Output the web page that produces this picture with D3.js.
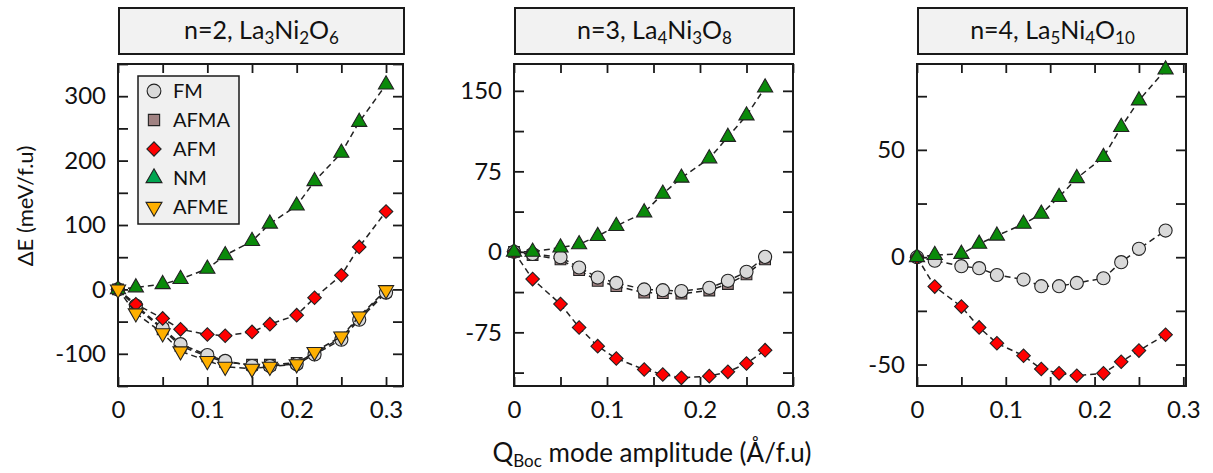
<!DOCTYPE html>
<html>
<head>
<meta charset="utf-8">
<script src="https://cdn.jsdelivr.net/npm/d3@7/dist/d3.min.js"></script>
<style>
  body { margin: 0; background: #fff; }
  text { font-family: Lato, "Open Sans", sans-serif; fill: #111; }
</style>
</head>
<body>
<svg id="chart" width="1213" height="473"></svg>
<script>
// ---- data ----
// n=2, La3Ni2O6
var xs2   = [0, 0.02, 0.05, 0.07, 0.10, 0.12, 0.15, 0.17, 0.20, 0.22, 0.25, 0.27, 0.30];
var fm2   = [0, -25, -60, -85, -102, -111, -119, -119, -116, -101, -78, -47, -5];
var afma2 = [0, -27, -62, -88, -104, -113, -117, -117, -114, -99, -75, -44, -3];
var afm2  = [0, -23, -45, -62, -70, -72, -66, -54, -40, -13, 22, 66, 121];
var nm2   = [0, 3, 8, 16, 32, 53, 75, 102, 130, 168, 212, 260, 318];
var afme2 = [0, -37, -68, -96, -111, -120, -123, -120, -116, -97, -73, -42, -1];

// n=3, La4Ni3O8
var xs3   = [0, 0.02, 0.05, 0.07, 0.09, 0.11, 0.14, 0.16, 0.18, 0.21, 0.23, 0.25, 0.27];
var fm3   = [0, -2, -5, -14.6, -24, -29, -35, -35.7, -36.6, -33.5, -27, -18.6, -4.7];
var afma3 = [0, -3, -7, -17, -27, -32, -38, -38.5, -39, -36, -30, -21, -7];
var afm3  = [0, -25.4, -48.7, -70.5, -87.9, -99.4, -109.6, -114.3, -117.4, -115.8, -111.8, -104, -91.6];
var nm3   = [0, 0, 4, 7, 14.6, 24, 36.7, 54, 69, 87, 107, 127, 153];

// n=4, La5Ni4O10
var xs4   = [0, 0.02, 0.05, 0.07, 0.09, 0.12, 0.14, 0.16, 0.18, 0.21, 0.23, 0.25, 0.28];
var fm4   = [0, -1.6, -4.2, -5.1, -8.3, -10.4, -13.5, -13.5, -12, -9.8, -2.3, 3.9, 12.4];
var afm4  = [0, -13.7, -23, -32.7, -40.1, -45.9, -52.1, -54.1, -55.2, -54.1, -48.7, -43.5, -36.1];
var nm4   = [0, 1, 1.5, 6.2, 10, 15.5, 20.2, 28, 36.8, 46.6, 60.6, 73, 87.4];

var legendNames = ['FM', 'AFMA', 'AFM', 'NM', 'AFME'];
var yTicks2 = [-100, 0, 100, 200, 300];
var yTicks3 = [-75, 0, 75, 150];
var yTicks4 = [-50, 0, 50];

// ---- styles ----
var styles = {
  FM:   {fill: '#d9d9d9', sym: d3.symbolCircle,   size: 135, rot: 0},
  AFMA: {fill: '#a08282', sym: d3.symbolSquare,   size: 115, rot: 0},
  AFM:  {fill: '#ff0000', sym: d3.symbolSquare,   size: 92,  rot: 45},
  NM:   {fill: '#0a8a0a', sym: d3.symbolTriangle, size: 100, rot: 0},
  AFME: {fill: '#ffb000', sym: d3.symbolTriangle, size: 100, rot: 180}
};

var svg = d3.select('#chart');

var panels = [
  {title: ['n=2, La', '3', 'Ni', '2', 'O', '6'], x0: 118, x1: 403, xmax: 0.319,
   ydom: [-150, 350], yt: yTicks2, ystep: 50,
   series: [['AFMA', xs2, afma2], ['FM', xs2, fm2], ['AFM', xs2, afm2], ['NM', xs2, nm2], ['AFME', xs2, afme2]],
   legend: true},
  {title: ['n=3, La', '4', 'Ni', '3', 'O', '8'], x0: 514, x1: 793, xmax: 0.30,
   ydom: [-125, 175], yt: yTicks3, ystep: 37.5,
   series: [['AFMA', xs3, afma3], ['FM', xs3, fm3], ['AFM', xs3, afm3], ['NM', xs3, nm3]]},
  {title: ['n=4, La', '5', 'Ni', '4', 'O', '10'], x0: 917, x1: 1186, xmax: 0.303,
   ydom: [-60, 90], yt: yTicks4, ystep: 25,
   series: [['FM', xs4, fm4], ['AFM', xs4, afm4], ['NM', xs4, nm4]]}
];

var plotTop = 64, plotBottom = 386;

panels.forEach(function(p) {
  var w = p.x1 - p.x0, h = plotBottom - plotTop;
  var g = svg.append('g').attr('transform', 'translate(' + p.x0 + ',' + plotTop + ')');

  var x = d3.scaleLinear().domain([0, p.xmax]).range([0, w]);
  var y = d3.scaleLinear().domain(p.ydom).range([h, 0]);

  // title box
  g.append('rect').attr('x', 1).attr('y', -56).attr('width', w).attr('height', 46)
    .attr('fill', '#f2f2f2').attr('stroke', '#1a1a1a').attr('stroke-width', 2);
  var t = g.append('text').attr('x', w / 2 + 1).attr('y', -25).attr('text-anchor', 'middle')
    .style('font-size', '25px');
  p.title.forEach(function(s, i) {
    var sp = t.append('tspan').text(s);
    if (i % 2 === 1) sp.style('font-size', '17px').attr('dy', 5);
    else if (i > 0) sp.attr('dy', -5);
  });

  // ticks
  var xv = d3.range(0, p.xmax + 1e-9, 0.05);
  var isMajor = function(d) { return Math.abs(d * 10 - Math.round(d * 10)) < 1e-6; };
  var yv = d3.range(Math.ceil(p.ydom[0] / p.ystep) * p.ystep, p.ydom[1] + 1e-9, p.ystep);

  g.append('g').attr('transform', 'translate(0,' + h + ')')
    .call(d3.axisBottom(x).tickValues(xv).tickSize(-9).tickPadding(15)
      .tickFormat(function(d) { return isMajor(d) ? (Math.round(d * 10) === 0 ? '0' : d3.format('.1f')(d)) : ''; }));
  g.append('g')
    .call(d3.axisTop(x).tickValues(xv).tickSize(-9).tickFormat(''));
  g.append('g')
    .call(d3.axisLeft(y).tickValues(yv).tickSize(-10).tickPadding(12)
      .tickFormat(function(d) { return p.yt.indexOf(d) >= 0 ? d : ''; }));
  g.append('g').attr('transform', 'translate(' + w + ',0)')
    .call(d3.axisRight(y).tickValues(yv).tickSize(-10).tickFormat(''));

  g.selectAll('.domain').remove();
  g.selectAll('.tick line').attr('stroke', '#1a1a1a').attr('stroke-width', 1.8);
  g.selectAll('.tick text').style('font-size', '24px').style('font-family', 'Lato, sans-serif').attr('fill', '#111');

  g.append('rect').attr('width', w).attr('height', h)
    .attr('fill', 'none').attr('stroke', '#1a1a1a').attr('stroke-width', 2);

  // series
  var line = d3.line().x(function(d) { return x(d[0]); }).y(function(d) { return y(d[1]); });
  p.series.forEach(function(s) {
    var st = styles[s[0]];
    var pts = s[1].map(function(v, i) { return [v, s[2][i]]; });
    g.append('path').datum(pts).attr('d', line)
      .attr('fill', 'none').attr('stroke', '#222').attr('stroke-width', 1.5)
      .attr('stroke-dasharray', '6,4');
    g.selectAll(null).data(pts).enter().append('path')
      .attr('d', d3.symbol().type(st.sym).size(st.size))
      .attr('transform', function(d) { return 'translate(' + x(d[0]) + ',' + y(d[1]) + ') rotate(' + st.rot + ')'; })
      .attr('fill', st.fill).attr('stroke', '#222').attr('stroke-width', 1.1);
  });

  // legend
  if (p.legend) {
    var lg = g.append('g').attr('transform', 'translate(20,12)');
    lg.append('rect').attr('width', 101).attr('height', 148)
      .attr('fill', '#f0f0f0').attr('stroke', '#1a1a1a').attr('stroke-width', 1.5);
    legendNames.forEach(function(n, i) {
      var st = styles[n];
      var ly = 15 + i * 29;
      lg.append('path').attr('d', d3.symbol().type(st.sym).size(st.size * 1.1))
        .attr('transform', 'translate(16,' + ly + ') rotate(' + st.rot + ')')
        .attr('fill', n === 'NM' ? '#00a550' : st.fill).attr('stroke', '#222').attr('stroke-width', 1.1);
      lg.append('text').attr('x', 35).attr('y', ly).attr('dy', '0.36em')
        .style('font-size', '20px').text(n);
    });
  }
});

// axis titles
svg.append('text').attr('transform', 'translate(33,206) rotate(-90)')
  .attr('text-anchor', 'middle').style('font-size', '22px').text('ΔE (meV/f.u)');

var xl = svg.append('text').attr('x', 652).attr('y', 462).attr('text-anchor', 'middle')
  .style('font-size', '26px');
xl.append('tspan').text('Q');
xl.append('tspan').text('Boc').style('font-size', '17px').attr('dy', 5);
xl.append('tspan').text(' mode amplitude (Å/f.u)').attr('dy', -5);
</script>
</body>
</html>
